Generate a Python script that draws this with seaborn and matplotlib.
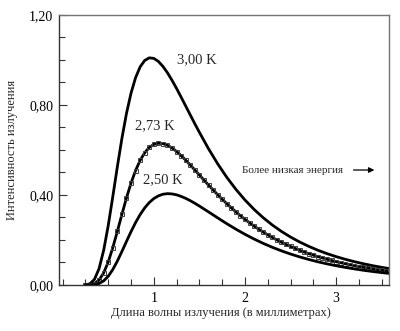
import matplotlib
matplotlib.use("Agg")
import matplotlib.pyplot as plt
import seaborn as sns
from matplotlib.ticker import FixedLocator, FixedFormatter, MultipleLocator

# Wavelength grids, mm
wl_coarse = [0.25, 0.30, 0.35, 0.40, 0.45, 0.50, 0.55, 0.60, 0.65, 0.70,
             0.75, 0.80, 0.85, 0.90, 0.95, 1.00, 1.05, 1.10, 1.15, 1.20,
             1.25, 1.30, 1.35, 1.40, 1.45, 1.50,
             1.6, 1.7, 1.8, 1.9, 2.0, 2.1, 2.2, 2.3, 2.4, 2.5, 2.6, 2.7,
             2.8, 2.9, 3.0, 3.1, 3.2, 3.3, 3.4, 3.5, 3.6]
wl_fine = [0.25, 0.30, 0.35, 0.40, 0.45, 0.50, 0.55, 0.60, 0.65, 0.70,
           0.75, 0.80, 0.85, 0.90, 0.95, 1.00, 1.05, 1.10, 1.15, 1.20,
           1.25, 1.30, 1.35, 1.40, 1.45, 1.50, 1.55, 1.60, 1.65, 1.70,
           1.75, 1.80, 1.85, 1.90, 1.95, 2.00, 2.05, 2.10, 2.15, 2.20,
           2.25, 2.30, 2.35, 2.40, 2.45, 2.50, 2.55, 2.60, 2.65, 2.70,
           2.75, 2.80, 2.85, 2.90, 2.95, 3.00, 3.05, 3.10, 3.15, 3.20,
           3.25, 3.30, 3.35, 3.40, 3.45, 3.50, 3.55, 3.60]

# Radiation intensity for each temperature
i_300 = [0.0006, 0.0057, 0.0258, 0.0733, 0.1542, 0.2641, 0.3923, 0.5254,
         0.6514, 0.7620, 0.8525, 0.9215, 0.9694, 0.9978, 1.0096, 1.0072,
         0.9937, 0.9716, 0.9431, 0.9096, 0.8732, 0.8346, 0.7952, 0.7558,
         0.7166, 0.6785,
         0.6057, 0.5390, 0.4789, 0.4253, 0.3778, 0.3359, 0.2990, 0.2666,
         0.2381, 0.2131, 0.1911, 0.1717, 0.1545, 0.1394, 0.1261, 0.1142,
         0.1036, 0.0943, 0.0859, 0.0784, 0.0717]
i_273 = [0.0001, 0.0012, 0.0066, 0.0224, 0.0537, 0.1023, 0.1657, 0.2382,
         0.3138, 0.3867, 0.4527, 0.5088, 0.5539, 0.5878, 0.6113, 0.6249,
         0.6301, 0.6285, 0.6210, 0.6089, 0.5933, 0.5749, 0.5548, 0.5334,
         0.5112, 0.4888, 0.4664, 0.4443, 0.4227, 0.4016, 0.3812, 0.3617,
         0.3430, 0.3250, 0.3080, 0.2918, 0.2765, 0.2619, 0.2482, 0.2352,
         0.2229, 0.2113, 0.2004, 0.1901, 0.1803, 0.1712, 0.1625, 0.1544,
         0.1467, 0.1394, 0.1326, 0.1261, 0.1201, 0.1143, 0.1089, 0.1038,
         0.0990, 0.0944, 0.0900, 0.0860, 0.0821, 0.0784, 0.0750, 0.0717,
         0.0686, 0.0656, 0.0628, 0.0602]
i_250 = [0.0000, 0.0002, 0.0017, 0.0067, 0.0183, 0.0388, 0.0686, 0.1062,
         0.1488, 0.1934, 0.2370, 0.2774, 0.3129, 0.3426, 0.3664, 0.3841,
         0.3961, 0.4033, 0.4060, 0.4048, 0.4007, 0.3937, 0.3850, 0.3747,
         0.3632, 0.3509,
         0.3249, 0.2985, 0.2726, 0.2482, 0.2253, 0.2042, 0.1850, 0.1676,
         0.1518, 0.1376, 0.1249, 0.1134, 0.1031, 0.0939, 0.0856, 0.0782,
         0.0715, 0.0654, 0.0600, 0.0551, 0.0507]

x_ticks = [1, 2, 3]
x_tick_labels = ["1", "2", "3"]
y_ticks = [0.0, 0.4, 0.8, 1.2]
y_tick_labels = ["0,00", "0,40", "0,80", "1,20"]

sns.set_theme(style="white")
plt.rcParams["font.family"] = ["Liberation Serif", "DejaVu Serif"]

fig = plt.figure(figsize=(4, 3.31), dpi=100)
ax = fig.add_axes([0.1475, 0.139, 0.825, 0.8157])

line_kw = dict(color="black", lw=2.0)
sns.lineplot(x=wl_coarse, y=i_300, ax=ax, **line_kw)
sns.lineplot(x=wl_fine, y=i_273, ax=ax, marker="s", markersize=2.8,
             markerfacecolor="none", markeredgecolor="0.25",
             markeredgewidth=0.7, **line_kw)
sns.lineplot(x=wl_coarse, y=i_250, ax=ax, **line_kw)

ax.set_xlim(-0.04, 3.58)
ax.set_ylim(0, 1.2)

ax.xaxis.set_major_locator(FixedLocator(x_ticks))
ax.xaxis.set_major_formatter(FixedFormatter(x_tick_labels))
ax.xaxis.set_minor_locator(MultipleLocator(0.25))
ax.yaxis.set_major_locator(FixedLocator(y_ticks))
ax.yaxis.set_major_formatter(FixedFormatter(y_tick_labels))
ax.yaxis.set_minor_locator(MultipleLocator(0.1))

ax.tick_params(which="both", direction="in", bottom=True, left=True,
               top=False, right=False, color="0.2", width=0.8,
               labelsize=10, labelcolor="black")
ax.tick_params(which="major", length=6)
ax.tick_params(which="minor", length=4)
ax.tick_params(axis="x", pad=5)
ax.tick_params(axis="y", pad=4)

for name, sp in ax.spines.items():
    sp.set_visible(True)
    sp.set_linewidth(1.0)
    sp.set_color("0.2" if name in ("left", "bottom") else "0.45")

ax.set_xlabel("Длина волны излучения (в миллиметрах)", fontsize=9)
ax.set_ylabel("Интенсивность излучения", fontsize=9)
ax.xaxis.set_label_coords(0.49, -0.104)
ax.xaxis.label.set_va("center")
ax.yaxis.set_label_coords(-0.142, 0.5)
ax.yaxis.label.set_va("center")

ax.text(1.25, 1.00, "3,00 K", fontsize=10.5, ha="left", va="center")
ax.text(0.79, 0.707, "2,73 K", fontsize=10.5, ha="left", va="center")
ax.text(0.88, 0.467, "2,50 K", fontsize=10.5, ha="left", va="center")
ax.text(1.97, 0.511, "Более низкая энергия", fontsize=8,
        ha="left", va="center")
ax.annotate("", xy=(3.45, 0.511), xytext=(3.16, 0.511),
            arrowprops=dict(arrowstyle="-|>", color="black", lw=0.9,
                            mutation_scale=8))

fig.savefig("out.png", dpi=100)
